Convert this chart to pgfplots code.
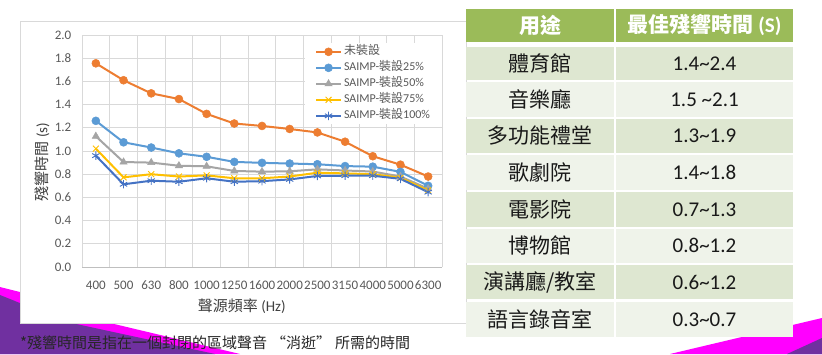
\documentclass[border=0pt]{standalone}
\usepackage{pgfplots}
\pgfplotsset{compat=1.18}
\usepackage{fontspec}
\setmainfont{Carlito}
\newfontfamily\cjk{Noto Sans CJK TC}
\definecolor{c1}{HTML}{ED7D31}
\definecolor{c2}{HTML}{5B9BD5}
\definecolor{c3}{HTML}{A5A5A5}
\definecolor{c4}{HTML}{FFC000}
\definecolor{c5}{HTML}{4472C4}
\definecolor{gridc}{HTML}{D9D9D9}
\definecolor{axc}{HTML}{BFBFBF}
\definecolor{tickc}{HTML}{595959}
\definecolor{labc}{HTML}{404040}
\definecolor{hdr}{HTML}{9BBB59}
\definecolor{rowA}{HTML}{DEE7D1}
\definecolor{rowB}{HTML}{EFF3EA}
\definecolor{mag}{HTML}{FF00FF}
\definecolor{pur}{HTML}{7030A0}
\definecolor{foot}{HTML}{262626}
\begin{document}
\begin{tikzpicture}
\useasboundingbox (0pt,0pt) rectangle (822pt,-354pt);
\fill[white] (0pt,0pt) rectangle (822pt,-354pt);
\begin{scope}[x=1pt,y=-1pt]
  \fill[mag] (0,287) -- (20,292) -- (110,323) -- (240,354) -- (0,354) -- cycle;
  \fill[pur] (0,295) -- (67,322) -- (215,354) -- (0,354) -- cycle;
  \fill[mag] (670,354) -- (822,318) -- (822,354) -- cycle;
  \fill[pur] (787,354) -- (822,338) -- (822,354) -- cycle;
  \filldraw[fill=white, draw=gridc, line width=0.8pt] (20,21) rectangle (466,323);
\end{scope}
\begin{axis}[
  at={(82pt,-267pt)}, anchor=south west,
  scale only axis, width=360pt, height=232pt,
  xmin=-0.5, xmax=12.5, ymin=0, ymax=2,
  axis x line=bottom, axis y line=left,
  axis line style={-},
  x axis line style={draw=axc, line width=0.8pt},
  y axis line style={draw=gridc, line width=0.8pt},
  xtick={0,1,2,3,4,5,6,7,8,9,10,11,12},
  xticklabels={400,500,630,800,1000,1250,1600,2000,2500,3150,4000,5000,6300},
  minor xtick={-0.5,0.5,1.5,2.5,3.5,4.5,5.5,6.5,7.5,8.5,9.5,10.5,11.5,12.5},
  ytick={0,0.2,0.4,0.6,0.8,1.0,1.2,1.4,1.6,1.8,2.0},
  yticklabels={0.0,0.2,0.4,0.6,0.8,1.0,1.2,1.4,1.6,1.8,2.0},
  major tick length=0pt, minor tick length=0pt,
  ymajorgrids, xminorgrids,
  major grid style={draw=gridc, line width=0.8pt},
  minor grid style={draw=gridc, line width=0.8pt},
  tick label style={font=\fontsize{13}{15}\selectfont, text=tickc, inner sep=0pt},
  xticklabel style={anchor=center, yshift=-18pt},
  yticklabel style={anchor=east, xshift=-10.5pt},
  xlabel={{\cjk 聲源頻率} (Hz)},
  ylabel={{\cjk 殘響時間} (s)},
  label style={font=\fontsize{15}{18}\selectfont, text=labc},
  xlabel style={at={(axis description cs:0.444,-0.171)}, anchor=center},
  ylabel style={at={(axis description cs:-0.111,0.453)}, anchor=center},
  legend style={at={(axis description cs:0.619,0.965)}, anchor=north west, draw=none, fill=white,
    inner xsep=10pt, inner ysep=3pt, font=\fontsize{12}{14}\selectfont, text=tickc,
    row sep=5pt, nodes={inner xsep=2pt, inner ysep=0pt, text height=8pt, text depth=3pt}},
  legend cell align=left,
  legend image code/.code={\draw[mark repeat=2,mark phase=2] plot coordinates {(0pt,0pt) (12.5pt,0pt) (25pt,0pt)};},
]
\addplot[c1, line width=2pt, mark=*, mark size=4pt, mark options={fill=c1, draw=c1, line width=0.5pt}]
  coordinates {(0,1.756)(1,1.61)(2,1.497)(3,1.448)(4,1.32)(5,1.237)(6,1.216)(7,1.19)(8,1.16)(9,1.08)(10,0.955)(11,0.882)(12,0.78)};
\addlegendentry{{\cjk 未裝設}}
\addplot[c2, line width=2pt, mark=*, mark size=4pt, mark options={fill=c2, draw=c2, line width=0.5pt}]
  coordinates {(0,1.26)(1,1.075)(2,1.03)(3,0.98)(4,0.95)(5,0.906)(6,0.898)(7,0.892)(8,0.886)(9,0.87)(10,0.865)(11,0.82)(12,0.70)};
\addlegendentry{SAIMP-{\cjk 裝設}25\%}
\addplot[c3, line width=2pt, mark=triangle*, mark size=4.2pt, mark options={fill=c3, draw=c3, line width=0.5pt}]
  coordinates {(0,1.127)(1,0.905)(2,0.9)(3,0.873)(4,0.868)(5,0.828)(6,0.822)(7,0.825)(8,0.842)(9,0.832)(10,0.823)(11,0.78)(12,0.675)};
\addlegendentry{SAIMP-{\cjk 裝設}50\%}
\addplot[c4, line width=2pt, mark=x, mark size=4.2pt, mark options={draw=c4, line width=0.9pt}]
  coordinates {(0,1.02)(1,0.773)(2,0.80)(3,0.78)(4,0.79)(5,0.765)(6,0.765)(7,0.78)(8,0.813)(9,0.807)(10,0.80)(11,0.77)(12,0.66)};
\addlegendentry{SAIMP-{\cjk 裝設}75\%}
\addplot[c5, line width=2pt, mark=asterisk, mark size=4.2pt, mark options={draw=c5, line width=0.9pt}]
  coordinates {(0,0.96)(1,0.713)(2,0.744)(3,0.735)(4,0.765)(5,0.735)(6,0.74)(7,0.755)(8,0.785)(9,0.787)(10,0.787)(11,0.76)(12,0.645)};
\addlegendentry{SAIMP-{\cjk 裝設}100\%}
\end{axis}
\begin{scope}[x=1pt,y=-1pt]
  % table header
  \fill[hdr] (466,9) rectangle (614,41.7);
  \fill[hdr] (616,9) rectangle (793,41.7);
  \node[text=white, font=\fontsize{21}{25}\selectfont\bfseries, inner sep=0pt] at (540,25.4) {\cjk 用途};
  \node[text=white, font=\fontsize{21}{25}\selectfont\bfseries, inner sep=0pt] at (704.5,25.4) {{\cjk 最佳殘響時間} (S)};
  % rows
  \fill[rowA] (466,46.7) rectangle (614,80);    \fill[rowA] (616,46.7) rectangle (793,80);
  \fill[rowB] (466,82) rectangle (614,116.7);   \fill[rowB] (616,82) rectangle (793,116.7);
  \fill[rowA] (466,118.7) rectangle (614,152.7); \fill[rowA] (616,118.7) rectangle (793,152.7);
  \fill[rowB] (466,154.7) rectangle (614,190);  \fill[rowB] (616,154.7) rectangle (793,190);
  \fill[rowA] (466,192) rectangle (614,226.7);  \fill[rowA] (616,192) rectangle (793,226.7);
  \fill[rowB] (466,228.7) rectangle (614,262.7); \fill[rowB] (616,228.7) rectangle (793,262.7);
  \fill[rowA] (466,264.7) rectangle (614,299.3); \fill[rowA] (616,264.7) rectangle (793,299.3);
  \fill[rowB] (466,302) rectangle (614,336.7);  \fill[rowB] (616,302) rectangle (793,336.7);
  \begin{scope}[every node/.style={inner sep=0pt, text=black!90}]
    \node[font=\fontsize{21}{25}\selectfont] at (540,63.4) {\cjk 體育館};
    \node[font=\fontsize{21}{25}\selectfont] at (540,99.4) {\cjk 音樂廳};
    \node[font=\fontsize{21}{25}\selectfont] at (540,135.7) {\cjk 多功能禮堂};
    \node[font=\fontsize{21}{25}\selectfont] at (540,172.4) {\cjk 歌劇院};
    \node[font=\fontsize{21}{25}\selectfont] at (540,209.4) {\cjk 電影院};
    \node[font=\fontsize{21}{25}\selectfont] at (540,245.7) {\cjk 博物館};
    \node[font=\fontsize{21}{25}\selectfont] at (540,282) {\cjk 演講廳/教室};
    \node[font=\fontsize{21}{25}\selectfont] at (540,319.4) {\cjk 語言錄音室};
    \node[font=\fontsize{21}{25}\selectfont] at (704.5,63.4) {1.4\textasciitilde 2.4};
    \node[font=\fontsize{21}{25}\selectfont] at (704.5,99.4) {1.5 \textasciitilde 2.1};
    \node[font=\fontsize{21}{25}\selectfont] at (704.5,135.7) {1.3\textasciitilde 1.9};
    \node[font=\fontsize{21}{25}\selectfont] at (704.5,172.4) {1.4\textasciitilde 1.8};
    \node[font=\fontsize{21}{25}\selectfont] at (704.5,209.4) {0.7\textasciitilde 1.3};
    \node[font=\fontsize{21}{25}\selectfont] at (704.5,245.7) {0.8\textasciitilde 1.2};
    \node[font=\fontsize{21}{25}\selectfont] at (704.5,282) {0.6\textasciitilde 1.2};
    \node[font=\fontsize{21}{25}\selectfont] at (704.5,319.4) {0.3\textasciitilde 0.7};
  \end{scope}
  % footnote
  \node[anchor=west, font=\fontsize{15}{18}\selectfont, text=foot, inner sep=0pt] at (20,342.7) {\cjk *殘響時間是指在一個封閉的區域聲音\hspace{4pt}“消逝”\hspace{4pt}所需的時間};
\end{scope}
\end{tikzpicture}
\end{document}
